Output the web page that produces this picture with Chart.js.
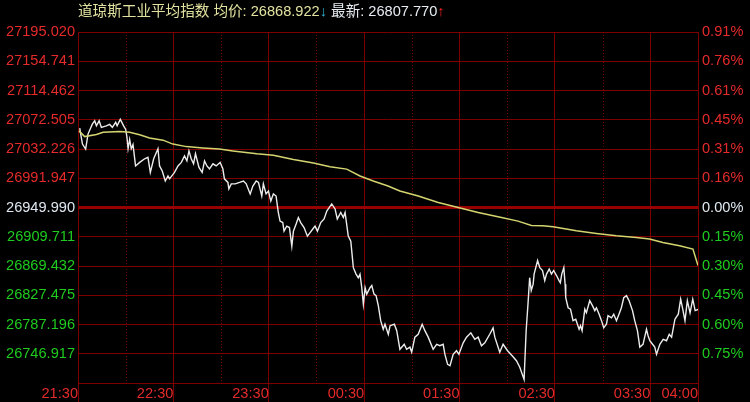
<!DOCTYPE html>
<html>
<head>
<meta charset="utf-8">
<script src="https://cdn.jsdelivr.net/npm/chart.js@4"></script>
<style>
  html, body { margin: 0; padding: 0; background: #000; }
  #quadro { position: relative; width: 750px; height: 402px; }
  #titulo { position: absolute; left: 78px; top: 3px; font: 14.6px "Liberation Sans", "Noto Sans CJK SC", sans-serif; line-height: 16px; white-space: nowrap; }
  .nome { color: #e2e2a0; }
  .desce { color: #2fb4d2; }
  .novo { color: #e6ecf2; }
  .sobe { color: #ff2222; }
</style>
</head>
<body>
<div id="quadro">
  <canvas id="grafico" width="750" height="402"></canvas>
  <div id="titulo"></div>
</div>
<script>
// minutos desde 21:30
const precoMin = [1.1, 1.9, 2.8, 4.8, 6.3, 9.0, 10.5, 11.6, 13.3, 14.7,
  17.8, 19.9, 21.6, 23.7, 24.6, 26.6, 28.7, 30.0, 30.8, 31.5,
  32.5, 33.5, 34.6, 36.2, 38.8, 41.9, 44.0, 45.5, 47.6, 50.3,
  51.3, 53.0, 54.9, 56.6, 57.6, 60.7, 62.9, 65.0, 67.0, 68.5,
  69.8, 71.2, 72.7, 73.9, 76.1, 78.1, 79.6, 81.1, 82.7, 84.9,
  86.9, 89.4, 91.1, 92.1, 94.3, 94.9, 96.4, 98.9, 101.6, 104.1,
  105.8, 108.3, 110.0, 112.1, 113.5, 115.6, 116.6, 118.3, 119.8, 121.3,
  122.9, 124.6, 126.0, 127.1, 128.8, 129.6, 131.3, 133.0, 134.5, 135.5,
  137.2, 138.6, 140.1, 142.2, 144.3, 146.0, 147.7, 149.1, 150.6, 152.7,
  154.8, 156.5, 159.6, 161.7, 163.1, 165.3, 166.9, 168.0, 170.0, 171.6,
  173.2, 174.9, 176.3, 177.4, 178.5, 179.5, 180.6, 181.6, 183.7, 184.8,
  186.2, 187.5, 188.9, 190.4, 192.0, 193.1, 195.2, 196.3, 199.0, 200.5,
  202.5, 205.2, 206.7, 208.8, 209.9, 211.9, 214.0, 216.5, 218.2, 220.3,
  223.4, 225.6, 227.6, 229.7, 230.8, 232.5, 234.0, 236.0, 238.1, 239.6,
  242.3, 244.4, 247.1, 249.6, 251.7, 253.8, 255.9, 259.0, 261.1, 262.2,
  265.3, 267.4, 270.2, 273.1, 275.8, 277.9, 280.6, 281.9, 283.2, 284.1,
  285.1, 286.3, 286.9, 289.1, 290.5, 292.2, 293.6, 294.7, 296.4, 297.8,
  299.2, 301.0, 302.6, 303.4, 304.3, 305.6, 306.4, 306.8, 308.3, 309.8,
  311.4, 313.1, 315.2, 316.1, 317.1, 318.8, 319.8, 321.9, 323.6, 325.1,
  326.1, 327.8, 329.3, 330.7, 332.4, 333.4, 335.6, 337.0, 338.7, 340.3,
  341.8, 343.3, 345.0, 346.6, 348.8, 350.2, 351.9, 353.4, 355.4, 357.6,
  358.6, 359.7, 361.4, 362.8, 363.9, 366.0, 368.1, 370.2, 371.9, 373.4,
  375.5, 377.6, 379.1, 380.4, 381.8, 383.3, 385.0, 386.7, 388.2, 390];

const preco = [27060.8, 27050, 27038.5, 27031.5, 27052.5, 27066.4, 27071, 27064, 27071, 27061.7,
  27064, 27066, 27062, 27069, 27064, 27073, 27064, 27059, 27048, 27032,
  27045, 27032, 27038, 27008, 27013, 27018, 27020, 26999, 27018, 27032,
  27008, 27001, 26987, 26994, 26990, 26999, 27008, 27013, 27022, 27015,
  27029, 27018, 27011, 27025, 27006, 26999, 27015, 27008, 27004, 27011,
  27008, 27013, 27004, 26990, 26985, 26976, 26983, 26983, 26985, 26987,
  26983, 26969, 26980, 26987, 26985, 26966, 26983, 26969, 26973, 26959,
  26969, 26966, 26943, 26931, 26929, 26917, 26924, 26922, 26896, 26917,
  26927, 26936, 26929, 26922, 26910, 26915, 26920, 26924, 26917, 26929,
  26934, 26945, 26955, 26948, 26934, 26943, 26936, 26943, 26910, 26903,
  26866, 26857, 26852, 26857, 26838, 26815, 26838, 26829, 26838, 26841,
  26829, 26827, 26813, 26792, 26780, 26787, 26773, 26785, 26787, 26778,
  26752, 26759, 26752, 26755, 26748, 26769, 26773, 26787, 26778, 26769,
  26752, 26759, 26757, 26759, 26745, 26731, 26729, 26745, 26750, 26745,
  26761, 26769, 26775, 26766, 26769, 26757, 26761, 26773, 26782, 26769,
  26748, 26759, 26750, 26743, 26736, 26727, 26710, 26778, 26820, 26852,
  26834, 26843, 26857, 26876, 26866, 26862, 26848, 26857, 26864, 26857,
  26862, 26855, 26848, 26845, 26857, 26866, 26843, 26824, 26810, 26808,
  26792, 26794, 26780, 26785, 26778, 26808, 26803, 26820, 26813, 26806,
  26810, 26801, 26792, 26782, 26787, 26799, 26796, 26801, 26792, 26801,
  26810, 26824, 26827, 26820, 26806, 26792, 26778, 26755, 26759, 26780,
  26771, 26764, 26759, 26755, 26745, 26759, 26766, 26764, 26773, 26769,
  26794, 26801, 26822, 26808, 26792, 26820, 26803, 26822, 26806, 26807.770];

const mediaMin = [0.6, 4.2, 11.6, 15.8, 26.2, 32.5, 38.8, 45.0, 53.5, 59.7,
  68.1, 78.6, 89.0, 97.4, 112.5, 122.9, 135.5, 148.1, 158.5, 169.0,
  177.4, 185.7, 195.0, 202.5, 214.0, 226.6, 239.1, 251.7, 266.4, 276.8,
  285.2, 292.3, 298.8, 313.5, 326.1, 338.6, 351.2, 359.5, 367.9, 378.4,
  386.8, 390];
const media = [27057, 27049, 27052, 27055, 27056, 27055, 27051.5, 27047, 27044, 27038.5,
  27035, 27033, 27031.5, 27029, 27025, 27023, 27017, 27012, 27007, 27003.6,
  26994, 26987, 26980, 26973, 26966, 26957, 26950, 26943, 26936, 26931,
  26925, 26924.5, 26923, 26917.5, 26913.7, 26910.5, 26908, 26906, 26901, 26896.5,
  26892, 26868.922];

// eixo X
const horasMin = [0, 60, 120, 180, 240, 300, 360, 390];
const horasTexto = ['21:30', '22:30', '23:30', '00:30', '01:30', '02:30', '03:30', '04:00'];
const meiaHoraMin = [30, 90, 150, 210, 270, 330];

// eixo Y, de baixo para cima
const fechamento = 26949.990;
const topo = 27195.020;
const rotulosEsq = ['', '26746.917', '26787.196', '26827.475', '26869.432', '26909.711', '26949.990',
  '26991.947', '27032.226', '27072.505', '27114.462', '27154.741', '27195.020'];
const rotulosDir = ['', '0.75%', '0.60%', '0.45%', '0.30%', '0.15%', '0.00%',
  '0.16%', '0.31%', '0.45%', '0.61%', '0.76%', '0.91%'];

const passo = (topo - fechamento) / 6;
const marcasY = rotulosEsq.map((r, i) => fechamento + (i - 6) * passo);

const nomeIndice = '道琼斯工业平均指数';
document.getElementById('titulo').innerHTML =
  `<span class="nome">${nomeIndice} 均价: ${media[media.length - 1].toFixed(3)}</span><span class="desce">↓</span>` +
  ` <span class="novo">最新: ${preco[preco.length - 1].toFixed(3)}</span><span class="sobe">↑</span>`;

const corGrade = '#7c0000';
const fonte = { family: '"Liberation Sans", Arial, sans-serif', size: 14.6 };
const corRotulo = ctx => ctx.index > 6 ? '#e52a2a' : (ctx.index === 6 ? '#dfe8f0' : '#1fcc1f');

const meiaHora = {
  id: 'meiaHora',
  beforeDatasetsDraw(chart) {
    const { ctx, chartArea, scales: { x } } = chart;
    ctx.save();
    ctx.strokeStyle = corGrade;
    ctx.lineWidth = 1;
    ctx.setLineDash([1, 2]);
    meiaHoraMin.forEach(m => {
      const px = Math.round(x.getPixelForValue(m)) + 0.5;
      ctx.beginPath();
      ctx.moveTo(px, chartArea.top);
      ctx.lineTo(px, chartArea.bottom);
      ctx.stroke();
    });
    ctx.restore();
  }
};

new Chart(document.getElementById('grafico').getContext('2d'), {
  type: 'line',
  data: {
    datasets: [{
      data: mediaMin.map((m, i) => ({ x: m, y: media[i] })),
      borderColor: '#d4d470',
      borderWidth: 1.5,
      pointRadius: 0,
      tension: 0
    }, {
      data: precoMin.map((m, i) => ({ x: m, y: preco[i] })),
      borderColor: '#ececec',
      borderWidth: 1.4,
      pointRadius: 0,
      tension: 0
    }]
  },
  plugins: [meiaHora],
  options: {
    responsive: false,
    animation: false,
    layout: { padding: { top: 32, left: 0, right: 0, bottom: 0 } },
    plugins: { legend: { display: false }, tooltip: { enabled: false } },
    scales: {
      x: {
        type: 'linear', min: 0, max: 390,
        afterBuildTicks: s => { s.ticks = horasMin.map(v => ({ value: v })); },
        afterFit: s => { s.height = 19; },
        grid: { color: corGrade, lineWidth: 1, drawTicks: true, tickLength: 19, tickColor: corGrade },
        border: { color: corGrade },
        ticks: {
          color: '#e52a2a', font: fonte, align: 'end', padding: -17,
          maxRotation: 0, autoSkip: false,
          callback: (v, i) => horasTexto[i]
        }
      },
      y: {
        position: 'left', min: marcasY[0], max: marcasY[12],
        afterBuildTicks: s => { s.ticks = marcasY.map(v => ({ value: v })); },
        afterFit: s => { s.width = 78; },
        grid: {
          color: ctx => ctx.index === 6 ? '#960000' : corGrade,
          lineWidth: ctx => ctx.index === 6 ? 3 : 1,
          drawTicks: false
        },
        border: { color: corGrade },
        ticks: { color: corRotulo, font: fonte, padding: 3, callback: (v, i) => rotulosEsq[i] }
      },
      y2: {
        position: 'right', min: marcasY[0], max: marcasY[12],
        afterBuildTicks: s => { s.ticks = marcasY.map(v => ({ value: v })); },
        afterFit: s => { s.width = 52; },
        grid: { drawOnChartArea: false, drawTicks: false },
        border: { color: corGrade },
        ticks: { color: corRotulo, font: fonte, padding: 4, callback: (v, i) => rotulosDir[i] }
      }
    }
  }
});
</script>
</body>
</html>
